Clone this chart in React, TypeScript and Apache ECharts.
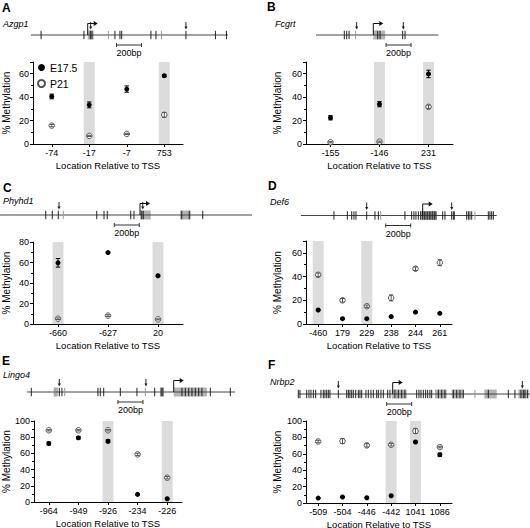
import React, { useEffect, useRef } from 'react';
import * as echarts from 'echarts';

const FONT = '"Liberation Sans", Arial, Helvetica, sans-serif';
const BP_PER_PX = 8;

// ---------- Panel A: Azgp1 ----------
const catsA = ['-74', '-17', '-7', '753'];
const e175A = [40.6, 33.4, 46.9, 58.3];
const e175ErrA = [2, 2.5, 2.7, 1];
const p21A = [15.7, 6.9, 8.6, 24.9];
const p21ErrA = [1, 0.5, 0.5, 2];
const shadedA = ['-17', '753'];
const geneLineA = [-454, 1122];
const geneDarkA = [-373, -30, 21, 34, 218, 258, 272, 506, 546, 786, 1022, 1110];
const geneGrayA = [165, 590];
const geneBandA = [[0, 48]];
const geneDarkBandA: number[][] = [];
const geneArrowA = [24, 786];
const geneScaleA = [231, 431];

// ---------- Panel B: Fcgrt ----------
const catsB = ['-155', '-146', '231'];
const e175B = [22.4, 34, 59.8];
const e175ErrB = [1.8, 2.2, 3.2];
const p21B = [1.5, 2, 31.7];
const p21ErrB = [0.5, 0.5, 1.5];
const shadedB = ['-146', '231'];
const geneLineB = [-458, 520];
const geneDarkB = [-232, -213, -194, 35, 54, 235, 254];
const geneGrayB = [-141];
const geneBandB = [[0, 94]];
const geneDarkBandB: number[][] = [];
const geneArrowB = [-133, 240];
const geneScaleB = [102, 302];

// ---------- Panel C: Phyhd1 ----------
const catsC = ['-660', '-627', '20'];
const e175C = [59.7, 69.7, 47.1];
const e175ErrC = [4.2, 1, 0.8];
const p21C = [5.2, 8.2, 4.5];
const p21ErrC = [0.8, 0.8, 0.5];
const shadedC = ['-660', '20'];
const geneLineC = [-1120, 896];
const geneDarkC = [-754, -702, -654, -346, -288, -262, -74, -48, 14, 26, 334, 394, 502];
const geneGrayC = [-614];
const geneBandC = [[0, 86], [320, 406]];
const geneDarkBandC: number[][] = [];
const geneArrowC = [-648, 22];
const geneScaleC = [-206, -6];

// ---------- Panel D: Def6 ----------
const catsD = ['-460', '179', '229', '238', '244', '261'];
const e175D = [11.8, 4.5, 4.5, 6.2, 10, 9];
const e175ErrD = [0.5, 0.5, 0.5, 0.5, 0.5, 0.5];
const p21D = [41.5, 20, 15, 22, 46.6, 51.7];
const p21ErrD = [1.5, 1.5, 1, 2.5, 1.5, 2.5];
const shadedD = ['-460', '229'];
const geneLineD = [-974, 592];
const geneDarkD = [-710, -603, -568, -550, -534, -448, -382, -355, -142, -88, -70, -54, -35, -16, 0, 13, 26, 40, 53, 66, 80, 93, 106, 160, 178, 232, 245, 253, 352, 365, 378, 392, 525, 538, 552, 565];
const geneGrayD = [-336, 418];
const geneBandD = [[-22, 112]];
const geneDarkBandD: number[][] = [];
const geneArrowD = [-448, 232];
const geneScaleD = [-296, -96];

// ---------- Panel E: Lingo4 ----------
const catsE = ['-964', '-949', '-926', '-234', '-226'];
const e175E = [72.2, 79.2, 75, 9.4, 4];
const e175ErrE = [1.8, 1.5, 1.8, 0.5, 0.5];
const p21E = [88.5, 88.5, 88.5, 58.8, 30];
const p21ErrE = [0.8, 0.8, 0.8, 1.5, 1.5];
const shadedE = ['-926', '-226'];
const geneLineE = [-1174, 490];
const geneDarkE = [-1139, -915, -894, -606, -587, -560, -427, -294, -152, 66, 93, 120, 146, 173, 200, 226, 293, 453];
const geneGrayE = [-947, -872, -227];
const geneBandE = [[-960, -925], [0, 266]];
const geneDarkBandE = [[-107, -80]];
const geneArrowE = [-915, -222];
const geneScaleE = [-446, -246];

// ---------- Panel F: Nrbp2 ----------
const catsF = ['-509', '-504', '-446', '-442', '1041', '1086'];
const e175F = [6, 7.3, 6.4, 8.8, 74.4, 58.9];
const e175ErrF = [0.5, 0.5, 0.5, 0.5, 1, 2];
const p21F = [75, 75.5, 70.3, 71, 87.8, 68.2];
const p21ErrF = [1.5, 3, 2, 1.5, 3, 1];
const shadedF = ['-442', '1041'];
const geneLineF = [-755, 1098];
const geneDarkF = [-755, -742, -688, -670, -654, -635, -616, -574, -555, -542, -528, -515, -502, -435, -368, -355, -342, -328, -315, -296, -275, -262, -248, -214, -195, -174, -155, -128, -115, -94, -75, -40, -22, 18, 45, 72, 98, 192, 210, 226, 245, 264, 280, 298, 312, 365, 392, 418, 485, 512, 538, 565, 765, 925, 978, 1026, 1045, 1058, 1080];
const geneGrayF = [658];
const geneBandF = [[-8, 112], [338, 432], [472, 565], [733, 832], [1005, 1085]];
const geneDarkBandF: number[][] = [];
const geneArrowF = [-435, 1037];
const geneScaleF = [-48, 152];

// ---------- Layout (positions only) ----------
const layouts = [
  { letter: 'A', gene: 'Azgp1', lx: 2, ly: 8, nx: 3, ny: 24, plot: { left: 33, top: 62, width: 150, height: 82 }, ymax: 70, lineY: 35, tssX: 87.7, nameGap: 22 },
  { letter: 'B', gene: 'Fcgrt', lx: 267, ly: 7, nx: 275, ny: 24, plot: { left: 306, top: 62, width: 147, height: 82 }, ymax: 70, lineY: 35, tssX: 373.3, nameGap: 24 },
  { letter: 'C', gene: 'Phyhd1', lx: 3, ly: 188, nx: 3, ny: 201, plot: { left: 33, top: 242, width: 150, height: 82 }, ymax: 80, lineY: 215, tssX: 140, nameGap: 22 },
  { letter: 'D', gene: 'Def6', lx: 268, ly: 186, nx: 270, ny: 202, plot: { left: 306, top: 241, width: 146, height: 83 }, ymax: 70, lineY: 215.5, tssX: 422.7, nameGap: 24 },
  { letter: 'E', gene: 'Lingo4', lx: 2, ly: 361, nx: 3, ny: 375, plot: { left: 34, top: 421, width: 148, height: 81 }, ymax: 100, lineY: 392, tssX: 173.7, nameGap: 22 },
  { letter: 'F', gene: 'Nrbp2', lx: 268, ly: 365, nx: 270, ny: 382, plot: { left: 306, top: 421, width: 146, height: 82 }, ymax: 100, lineY: 394, tssX: 392.7, nameGap: 24 },
];

const panelData = [
  { cats: catsA, e: e175A, eErr: e175ErrA, p: p21A, pErr: p21ErrA, shaded: shadedA, line: geneLineA, dark: geneDarkA, gray: geneGrayA, bands: geneBandA, darkBands: geneDarkBandA, arrows: geneArrowA, scale: geneScaleA },
  { cats: catsB, e: e175B, eErr: e175ErrB, p: p21B, pErr: p21ErrB, shaded: shadedB, line: geneLineB, dark: geneDarkB, gray: geneGrayB, bands: geneBandB, darkBands: geneDarkBandB, arrows: geneArrowB, scale: geneScaleB },
  { cats: catsC, e: e175C, eErr: e175ErrC, p: p21C, pErr: p21ErrC, shaded: shadedC, line: geneLineC, dark: geneDarkC, gray: geneGrayC, bands: geneBandC, darkBands: geneDarkBandC, arrows: geneArrowC, scale: geneScaleC },
  { cats: catsD, e: e175D, eErr: e175ErrD, p: p21D, pErr: p21ErrD, shaded: shadedD, line: geneLineD, dark: geneDarkD, gray: geneGrayD, bands: geneBandD, darkBands: geneDarkBandD, arrows: geneArrowD, scale: geneScaleD },
  { cats: catsE, e: e175E, eErr: e175ErrE, p: p21E, pErr: p21ErrE, shaded: shadedE, line: geneLineE, dark: geneDarkE, gray: geneGrayE, bands: geneBandE, darkBands: geneDarkBandE, arrows: geneArrowE, scale: geneScaleE },
  { cats: catsF, e: e175F, eErr: e175ErrF, p: p21F, pErr: p21ErrF, shaded: shadedF, line: geneLineF, dark: geneDarkF, gray: geneGrayF, bands: geneBandF, darkBands: geneDarkBandF, arrows: geneArrowF, scale: geneScaleF },
];

const shadeRender = (params: any, api: any) => {
  const p = api.coord([api.value(0), 0]);
  const cs = params.coordSys;
  return { type: 'rect', shape: { x: p[0] - 5.5, y: cs.y, width: 11, height: cs.height }, style: { fill: '#dcdcdc' } };
};

const errRender = (color: string) => (params: any, api: any) => {
  const x = api.value(0);
  const lo = api.coord([x, api.value(1)]);
  const hi = api.coord([x, api.value(2)]);
  const w = 2.2;
  const st = { stroke: color, lineWidth: 1 };
  return {
    type: 'group',
    children: [
      { type: 'line', shape: { x1: lo[0], y1: lo[1], x2: hi[0], y2: hi[1] }, style: st },
      { type: 'line', shape: { x1: lo[0] - w, y1: lo[1], x2: lo[0] + w, y2: lo[1] }, style: st },
      { type: 'line', shape: { x1: hi[0] - w, y1: hi[1], x2: hi[0] + w, y2: hi[1] }, style: st },
    ],
  };
};

const geneRender = (params: any, api: any) => {
  const kind = api.value(0);
  const a = api.value(1);
  const b = api.value(2);
  const pa = api.coord([a, 0]);
  const x = pa[0];
  const y = pa[1];
  if (kind === 0) {
    const pb = api.coord([b, 0]);
    return { type: 'line', shape: { x1: x, y1: y, x2: pb[0], y2: y }, style: { stroke: '#444', lineWidth: 1 } };
  }
  if (kind === 1 || kind === 2) {
    return { type: 'line', shape: { x1: x, y1: y - 4.2, x2: x, y2: y + 4.2 }, style: { stroke: kind === 1 ? '#222' : '#9a9a9a', lineWidth: 1 } };
  }
  if (kind === 3 || kind === 7) {
    const pb = api.coord([b, 0]);
    return { type: 'rect', shape: { x, y: y - 4.5, width: pb[0] - x, height: 9 }, style: { fill: kind === 3 ? '#b4b4b4' : '#555' } };
  }
  if (kind === 4) {
    return {
      type: 'group',
      children: [
        { type: 'line', shape: { x1: x, y1: y - 13, x2: x, y2: y - 8 }, style: { stroke: '#222', lineWidth: 1 } },
        { type: 'polygon', shape: { points: [[x - 1.6, y - 8.5], [x + 1.6, y - 8.5], [x, y - 5.5]] }, style: { fill: '#222' } },
      ],
    };
  }
  if (kind === 5) {
    return {
      type: 'group',
      children: [
        { type: 'polyline', shape: { points: [[x, y], [x, y - 11.5], [x + 6.5, y - 11.5]] }, style: { stroke: '#111', lineWidth: 1, fill: null } },
        { type: 'polygon', shape: { points: [[x + 6, y - 14], [x + 6, y - 9], [x + 10, y - 11.5]] }, style: { fill: '#111' } },
      ],
    };
  }
  if (kind === 6) {
    const pb = api.coord([b, 0]);
    const yy = y + 10;
    const st = { stroke: '#333', lineWidth: 1 };
    return {
      type: 'group',
      children: [
        { type: 'line', shape: { x1: x, y1: yy, x2: pb[0], y2: yy }, style: st },
        { type: 'line', shape: { x1: x, y1: yy - 2, x2: x, y2: yy + 2 }, style: st },
        { type: 'line', shape: { x1: pb[0], y1: yy - 2, x2: pb[0], y2: yy + 2 }, style: st },
        { type: 'text', x: (x + pb[0]) / 2, y: yy + 8, style: { text: '200bp', align: 'center', verticalAlign: 'middle', fontSize: 9, fontFamily: FONT, fill: '#000' } },
      ],
    };
  }
  return null;
};

function buildOption() {
  const grid: any[] = [];
  const xAxis: any[] = [];
  const yAxis: any[] = [];
  const series: any[] = [];
  const graphic: any[] = [];

  panelData.forEach((d, k) => {
    const L = layouts[k];
    const gi = 2 * k;
    // plot grid
    grid.push({ ...L.plot, outerBoundsMode: 'none', containLabel: false });
    xAxis.push({
      gridIndex: gi,
      type: 'category',
      data: d.cats,
      boundaryGap: true,
      axisLine: { show: true, lineStyle: { color: '#000', width: 1 } },
      axisTick: { show: true, alignWithLabel: true, length: 3, lineStyle: { color: '#000' } },
      axisLabel: { interval: 0, fontSize: 9, margin: 4, color: '#000', fontFamily: FONT },
      splitLine: { show: false },
      name: 'Location Relative to TSS',
      nameLocation: 'middle',
      nameGap: 16,
      nameTextStyle: { fontSize: 9.5, color: '#000', fontFamily: FONT },
    });
    yAxis.push({
      gridIndex: gi,
      type: 'value',
      min: 0,
      max: L.ymax,
      interval: 20,
      axisLine: { show: true, lineStyle: { color: '#000', width: 1 } },
      axisTick: { show: true, length: 3, lineStyle: { color: '#000' } },
      minorTick: { show: true, splitNumber: 2, length: 2, lineStyle: { color: '#000' } },
      axisLabel: { fontSize: 9, margin: 4, color: '#000', fontFamily: FONT, showMaxLabel: L.ymax % 20 === 0 },
      splitLine: { show: false },
      name: '% Methylation',
      nameLocation: 'middle',
      nameGap: L.nameGap,
      nameTextStyle: { fontSize: 10, color: '#000', fontFamily: FONT },
    });
    // gene diagram grid
    const start = d.line[0];
    const end = d.line[1];
    grid.push({
      left: L.tssX + start / BP_PER_PX,
      width: (end - start) / BP_PER_PX,
      top: L.lineY - 20,
      height: 40,
      outerBoundsMode: 'none',
      containLabel: false,
    });
    xAxis.push({ gridIndex: gi + 1, type: 'value', min: start, max: end, show: false });
    yAxis.push({ gridIndex: gi + 1, type: 'value', min: -1, max: 1, show: false });

    const geneItems: number[][] = [];
    d.bands.forEach((bd) => geneItems.push([3, bd[0], bd[1]]));
    d.darkBands.forEach((bd) => geneItems.push([7, bd[0], bd[1]]));
    geneItems.push([0, start, end]);
    d.gray.forEach((v) => geneItems.push([2, v, 0]));
    d.dark.forEach((v) => geneItems.push([1, v, 0]));
    d.arrows.forEach((v) => geneItems.push([4, v, 0]));
    geneItems.push([5, 0, 0]);
    geneItems.push([6, d.scale[0], d.scale[1]]);

    series.push({
      type: 'custom',
      name: 'gene' + k,
      xAxisIndex: gi + 1,
      yAxisIndex: gi + 1,
      data: geneItems,
      renderItem: geneRender,
      silent: true,
      clip: false,
      z: 2,
    });

    series.push({
      type: 'custom',
      name: 'shade' + k,
      xAxisIndex: gi,
      yAxisIndex: gi,
      data: d.shaded.map((c) => [d.cats.indexOf(c), 0]),
      renderItem: shadeRender,
      silent: true,
      z: 0,
    });
    series.push({
      type: 'scatter',
      name: 'P21',
      xAxisIndex: gi,
      yAxisIndex: gi,
      data: d.p.map((v, i) => [i, v]),
      symbol: 'circle',
      symbolSize: 5.5,
      itemStyle: { color: '#ffffff', borderColor: '#555', borderWidth: 1, opacity: 1 },
      z: 3,
    });
    series.push({
      type: 'custom',
      name: 'P21 err' + k,
      xAxisIndex: gi,
      yAxisIndex: gi,
      data: d.p.map((v, i) => [i, v - d.pErr[i], v + d.pErr[i]]),
      renderItem: errRender('#555'),
      silent: true,
      z: 4,
    });
    series.push({
      type: 'custom',
      name: 'E err' + k,
      xAxisIndex: gi,
      yAxisIndex: gi,
      data: d.e.map((v, i) => [i, v - d.eErr[i], v + d.eErr[i]]),
      renderItem: errRender('#000'),
      silent: true,
      z: 4,
    });
    series.push({
      type: 'scatter',
      name: 'E17.5',
      xAxisIndex: gi,
      yAxisIndex: gi,
      data: d.e.map((v, i) => [i, v]),
      symbol: 'circle',
      symbolSize: 5,
      itemStyle: { color: '#000', opacity: 1 },
      z: 5,
    });

    graphic.push({
      type: 'text',
      x: L.lx,
      y: L.ly,
      style: { text: L.letter, font: 'bold 12px ' + FONT, fill: '#000', align: 'left', verticalAlign: 'middle' },
    });
    graphic.push({
      type: 'text',
      x: L.nx,
      y: L.ny,
      style: { text: L.gene, font: 'italic 9px ' + FONT, fill: '#000', align: 'left', verticalAlign: 'middle' },
    });
  });

  return {
    animation: false,
    backgroundColor: '#ffffff',
    textStyle: { fontFamily: FONT },
    grid,
    xAxis,
    yAxis,
    series,
    graphic,
    legend: {
      data: ['E17.5', 'P21'],
      orient: 'vertical',
      left: 37,
      top: 62,
      itemWidth: 7,
      itemHeight: 7,
      itemGap: 5,
      padding: 0,
      selectedMode: false,
      textStyle: { fontSize: 10.5, color: '#000', fontFamily: FONT },
    },
  };
}

export default function App() {
  const ref = useRef<HTMLDivElement>(null);
  useEffect(() => {
    if (!ref.current) return;
    const chart = echarts.init(ref.current, null, { renderer: 'svg' });
    chart.setOption(buildOption() as any);
    return () => chart.dispose();
  }, []);
  return (
    <div
      ref={ref}
      style={{ position: 'fixed', left: 0, top: 0, width: 530, height: 528, background: '#fff' }}
    />
  );
}
